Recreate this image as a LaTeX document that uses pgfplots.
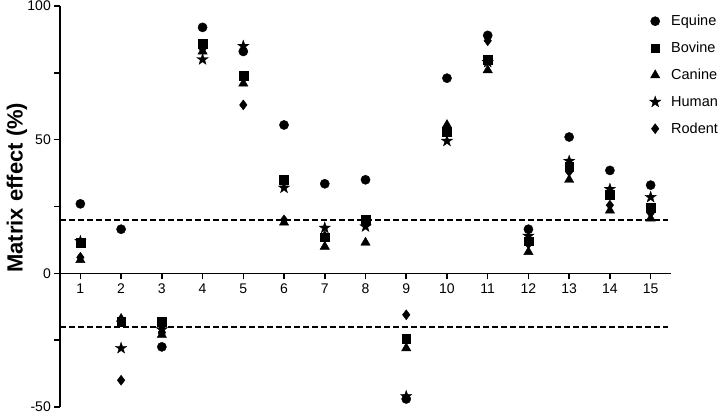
\documentclass[border=0pt]{standalone}
\usepackage{fontspec}
\setmainfont{Liberation Sans}
\usepackage{pgfplots}
\usepackage{pgfplotstable}
\pgfplotsset{compat=1.18}

% filled five-pointed star
\pgfdeclareplotmark{fstar}{%
  \pgfpathmoveto{\pgfpointpolar{90}{\pgfplotmarksize}}%
  \pgfpathlineto{\pgfpointpolar{126}{0.4\pgfplotmarksize}}%
  \pgfpathlineto{\pgfpointpolar{162}{\pgfplotmarksize}}%
  \pgfpathlineto{\pgfpointpolar{198}{0.4\pgfplotmarksize}}%
  \pgfpathlineto{\pgfpointpolar{234}{\pgfplotmarksize}}%
  \pgfpathlineto{\pgfpointpolar{270}{0.4\pgfplotmarksize}}%
  \pgfpathlineto{\pgfpointpolar{306}{\pgfplotmarksize}}%
  \pgfpathlineto{\pgfpointpolar{342}{0.4\pgfplotmarksize}}%
  \pgfpathlineto{\pgfpointpolar{18}{\pgfplotmarksize}}%
  \pgfpathlineto{\pgfpointpolar{54}{0.4\pgfplotmarksize}}%
  \pgfpathclose
  \pgfusepathqfillstroke
}

% matrix effect (%) per analyte, one column per species
\pgfplotstableread{
x   eq     bov    can    hum    rod
1   26     11.5   5      12     6
2   16.5   -18    -17    -28    -40
3   -27.5  -18    -23    -21    -22
4   92     86     83     80     84
5   83     74     71     85     63
6   55.5   35     19     32     20
7   33.5   13.5   10     17     14
8   35     20     11.5   17.5   18.5
9   -47    -24.5  -28    -46    -15.5
10  73     53     55.5   49.5   54
11  89     80     76     79     87
12  16.5   12     8      14     11
13  51     40     35     42     38
14  38.5   29.5   23.5   31.5   25.5
15  33     24.5   20.5   28.5   22.5
}\datatable

\begin{document}
\begin{tikzpicture}
\begin{axis}[
    scale only axis,
    width=611pt, height=401pt,
    xmin=0.5, xmax=15.5,
    ymin=-50, ymax=100,
    axis y line=left,
    axis x line=middle,
    axis line style={-, line width=1.5pt, black},
    tick align=outside,
    major tick length=6pt,
    minor tick length=6pt,
    tick style={line width=1.5pt, black},
    xtick={1,...,15},
    ytick={-50,0,50,100},
    yticklabels={-50,0,50,100},
    minor ytick={-25,25,75},
    hide obscured y ticks=false,
    tick label style={font=\fontsize{14}{16}\selectfont},
    xticklabel style={yshift=-1pt},
    yticklabel style={anchor=east, inner sep=1pt, xshift=-2pt},
    /pgf/number format/assume math mode=true,
    ylabel={Matrix effect (\%)},
    every axis y label/.style={at={(rel axis cs:-0.0704,0.547)}, anchor=center,
        rotate=90, font=\fontsize{22}{26}\selectfont\bfseries},
    clip=false,
    legend image code/.code={\path[draw=none] (0pt,0pt) -- (22pt,0pt);
        \draw[#1, only marks] plot coordinates {(8pt,0pt)};},
    legend style={at={(rel axis cs:0,1)}, anchor=north west, xshift=584pt, yshift=-5pt,
        draw=none, fill=none, row sep=11pt,
        font=\fontsize{14.5}{17}\selectfont},
    legend cell align=left,
]
\coordinate (O) at (rel axis cs:0,0);

\addplot[sharp plot, no marks, black, line width=1.7pt, dash pattern=on 6pt off 3pt, forget plot]
    coordinates {(0.5,20) (15.42,20)};
\addplot[sharp plot, no marks, black, line width=1.7pt, dash pattern=on 6pt off 3pt, forget plot]
    coordinates {(0.5,-20) (15.42,-20)};

\addplot[only marks, black, mark=*, mark size=4.6pt, mark options={fill=black}]
    table[x=x, y=eq] {\datatable};
\addplot[only marks, black, mark=square*, mark size=4.4pt, mark options={fill=black}]
    table[x=x, y=bov] {\datatable};
\addplot[only marks, black, mark=triangle*, mark size=5.4pt, mark options={fill=black}]
    table[x=x, y=can] {\datatable};
\addplot[only marks, black, mark=fstar, mark size=6pt, mark options={fill=black, line width=0.3pt}]
    table[x=x, y=hum] {\datatable};
\addplot[only marks, black, mark=diamond*, mark size=5pt, mark options={fill=black}]
    table[x=x, y=rod] {\datatable};

\legend{Equine, Bovine, Canine, Human, Rodent}
\end{axis}
\pgfresetboundingbox
\path ([shift={(-60pt,-9pt)}]O) rectangle ([shift={(662pt,407pt)}]O);
\end{tikzpicture}
\end{document}
